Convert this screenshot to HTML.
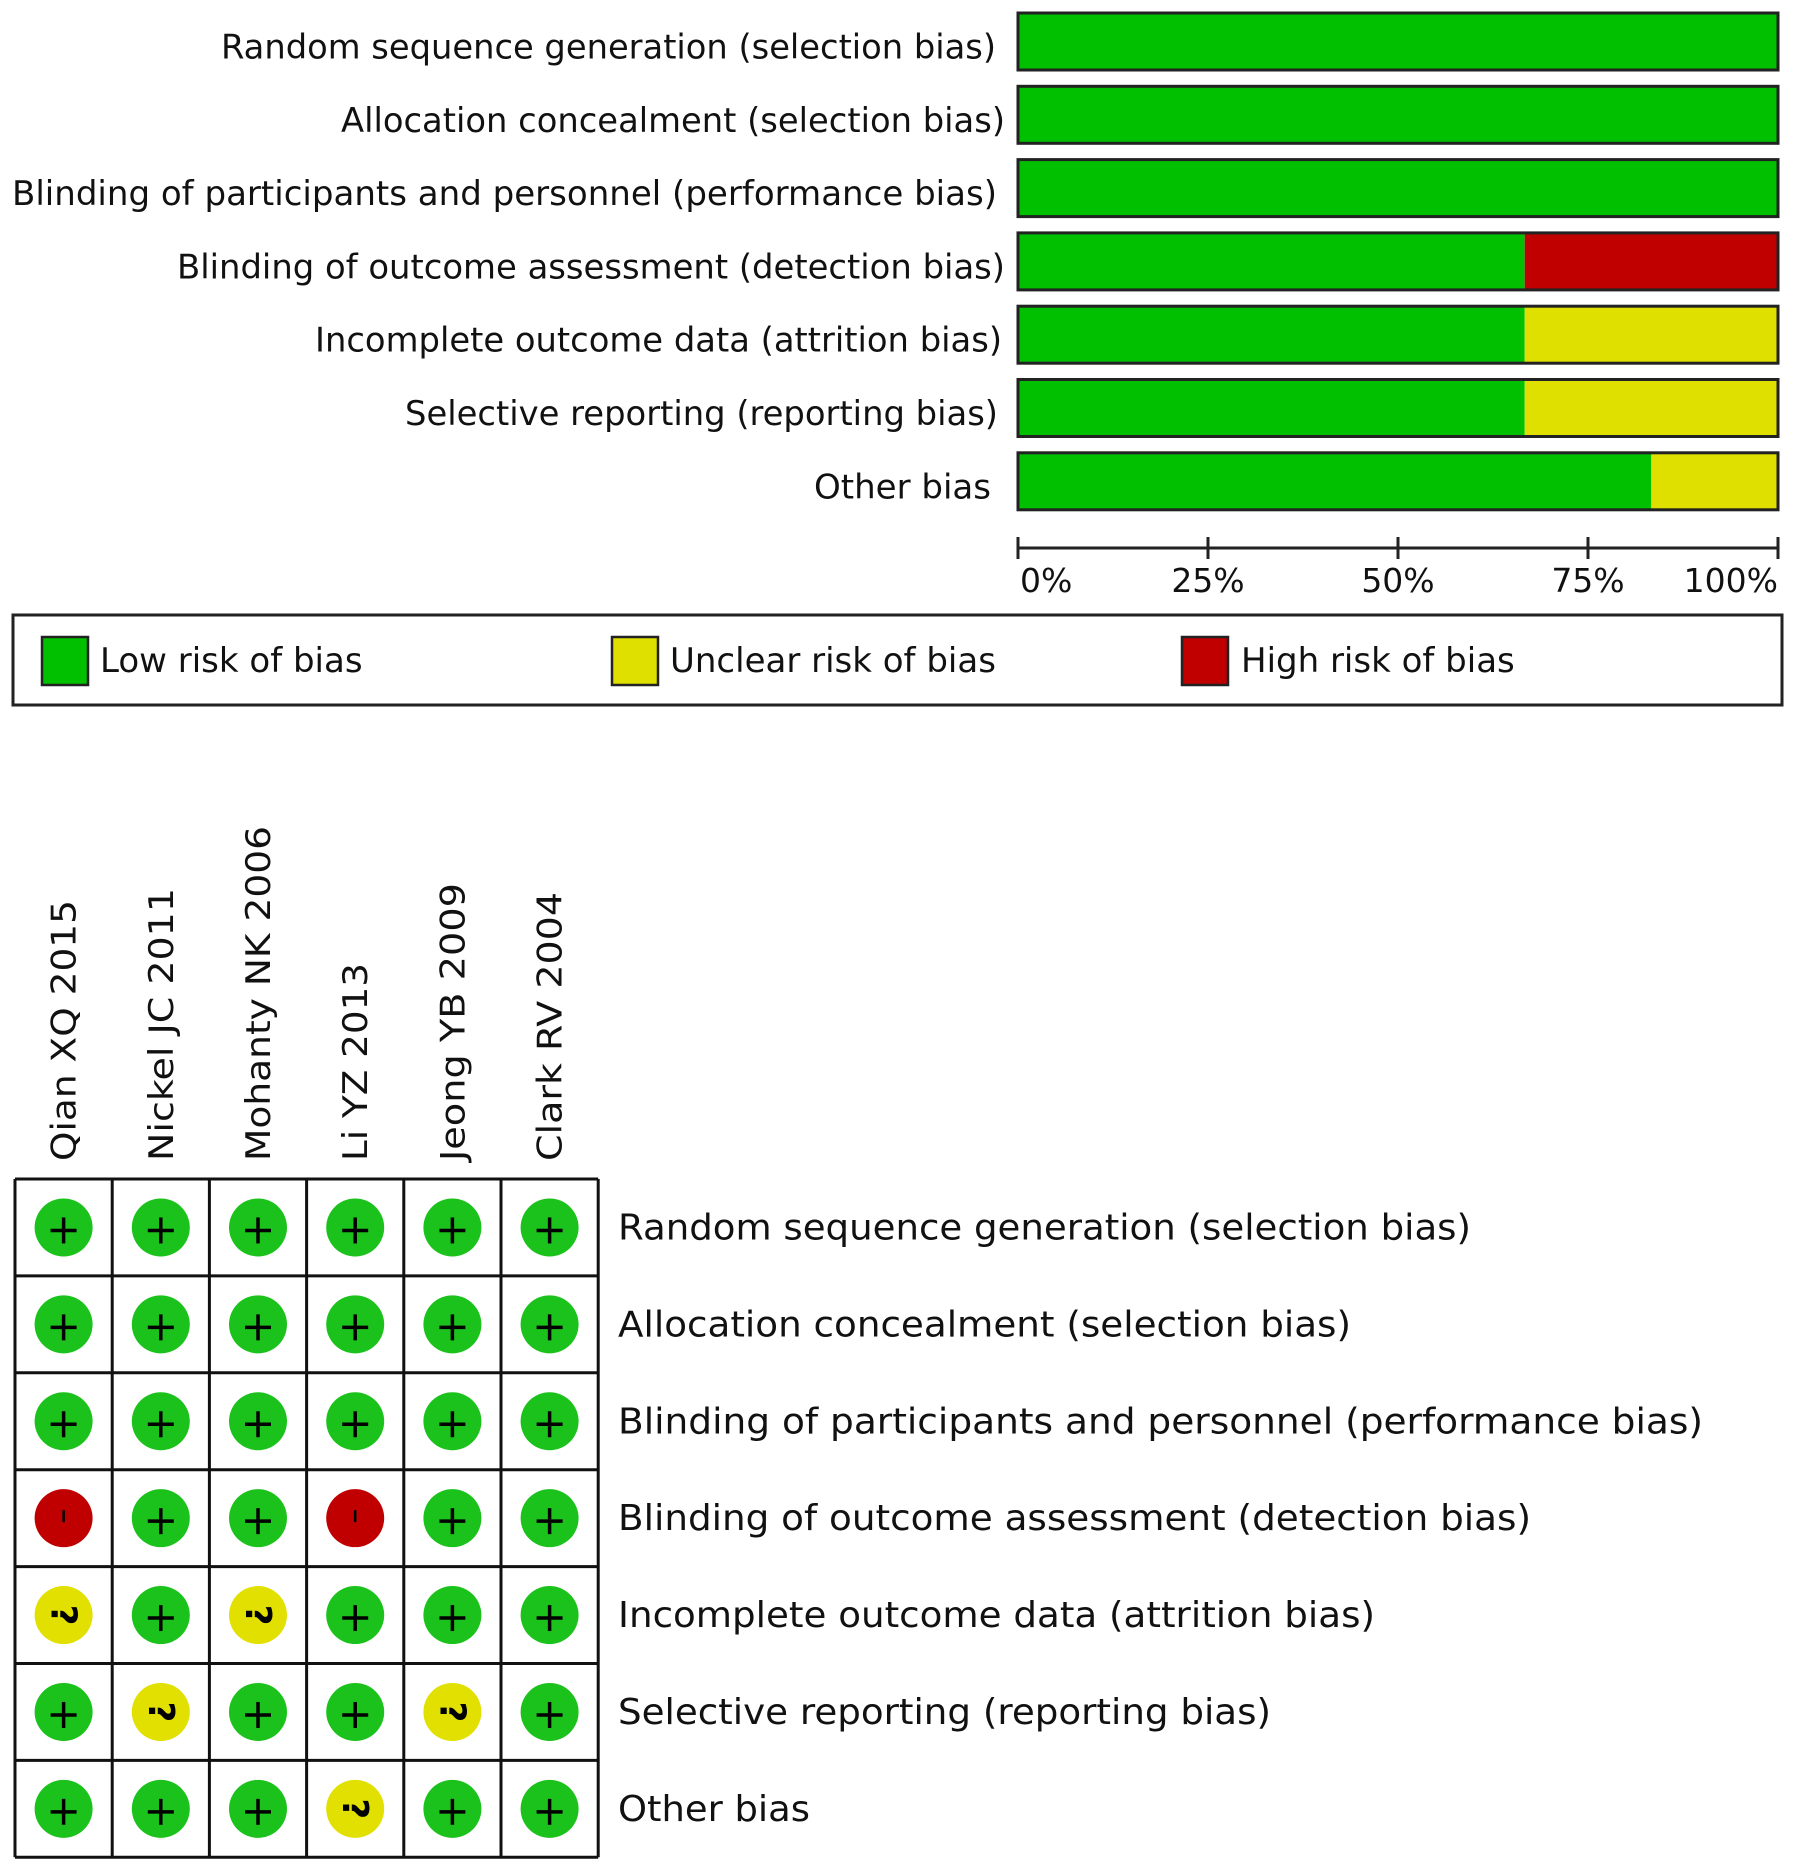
<!DOCTYPE html>
<html><head><meta charset="utf-8"><style>
html,body{margin:0;padding:0;background:#fff;}
svg{display:block;font-family:"DejaVu Sans","Liberation Sans",sans-serif;}
</style></head><body>
<svg id="chart" width="1795" height="1872" viewBox="0 0 1795 1872" xmlns="http://www.w3.org/2000/svg"></svg>
<script>
const domains = ["Random sequence generation (selection bias)","Allocation concealment (selection bias)","Blinding of participants and personnel (performance bias)","Blinding of outcome assessment (detection bias)","Incomplete outcome data (attrition bias)","Selective reporting (reporting bias)","Other bias"];
const lowPct = [100,100,100,66.67,66.67,66.67,83.33];
const unclearPct = [0,0,0,0,33.33,33.33,16.67];
const highPct = [0,0,0,33.33,0,0,0];
const tickValues = [0,25,50,75,100];
const tickLabels = ["0%","25%","50%","75%","100%"];
const studies = ["Qian XQ 2015","Nickel JC 2011","Mohanty NK 2006","Li YZ 2013","Jeong YB 2009","Clark RV 2004"];
const judgements = [
 ["L","L","L","L","L","L"],
 ["L","L","L","L","L","L"],
 ["L","L","L","L","L","L"],
 ["H","L","L","H","L","L"],
 ["U","L","U","L","L","L"],
 ["L","U","L","L","U","L"],
 ["L","L","L","U","L","L"]
];

const NS="http://www.w3.org/2000/svg";
const svg=document.getElementById('chart');
function mk(tag,attrs,parent){const e=document.createElementNS(NS,tag);for(const k in attrs)e.setAttribute(k,attrs[k]);(parent||svg).appendChild(e);return e;}

const X0=1018,X1=1778;
const xScale=v=>X0+(X1-X0)*v/100;
const barTop=i=>13+73.3*i;
const BH=57;
const topLabelLeft=[221,341,12,177,315,405,814];
const topLabelRight=[996,1005,997,1005,1002,998,991];

const topG=mk('g',{});


domains.forEach((d,i)=>{
  const y=barTop(i);
  const t=mk('text',{x:topLabelLeft[i],y:y+BH/2+17,'font-size':34,fill:'#111',textLength:topLabelRight[i]-topLabelLeft[i],lengthAdjust:'spacingAndGlyphs'},topG);
  t.textContent=d;
  
  
  let acc=0;
  [[lowPct[i],'#00c000'],[unclearPct[i],'#e0e000'],[highPct[i],'#c00000']].forEach(([v,c])=>{
    if(v<=0)return;
    const r=mk('rect',{x:xScale(acc),y:y,width:xScale(acc+v)-xScale(acc),height:BH,fill:c},topG);
    
    
    acc+=v;
  });
  const o=mk('rect',{x:X0,y:y,width:X1-X0,height:BH,fill:'none',stroke:'#222','stroke-width':3},topG);
  
  
});
const ax=mk('line',{x1:X0,x2:X1,y1:548,y2:548,stroke:'#222','stroke-width':3},topG);


tickValues.forEach((v,i)=>{
  const tk=mk('line',{x1:xScale(v),x2:xScale(v),y1:537,y2:559,stroke:'#222','stroke-width':3},topG);
  
  
  const anchor=i===0?'start':(i===tickValues.length-1?'end':'middle');
  const tl=mk('text',{x:xScale(v)+(i===0?2:0),y:592,'font-size':33,'text-anchor':anchor,fill:'#111'},topG);
  tl.textContent=tickLabels[i];
  
  
});

const lg=mk('g',{});


mk('rect',{x:13,y:615,width:1769,height:90,fill:'#fff',stroke:'#222','stroke-width':3},lg);
[["Low risk of bias",'#00c000',42,100],["Unclear risk of bias",'#e0e000',612,670],["High risk of bias",'#c00000',1182,1241]].forEach(([lab,c,sx,tx])=>{
  const s=mk('rect',{x:sx,y:637,width:46,height:48,fill:c,stroke:'#222','stroke-width':2.5},lg);
  
  
  const t=mk('text',{x:tx,y:672,'font-size':34,fill:'#111'},lg);
  t.textContent=lab;
  
  
});

const GX=15,GY=1179,CW=97.2,RH=96.9;
const studyLen=[261,273,335,198,278,269];
const gridLabelRight=[1471,1351,1703,1531,1375,1271,810];
const g=mk('g',{});


studies.forEach((s,j)=>{
  const cx=GX+CW*(j+0.5);
  const t=mk('text',{x:0,y:0,'font-size':34,fill:'#111',transform:`translate(${cx+12},1161) rotate(-90)`,textLength:studyLen[j],lengthAdjust:'spacingAndGlyphs'},g);
  t.textContent=s;
  
  
});
domains.forEach((d,i)=>{
  const cy=GY+RH*(i+0.5);
  const t=mk('text',{x:618,y:cy+12,'font-size':36,fill:'#111',textLength:gridLabelRight[i]-618,lengthAdjust:'spacingAndGlyphs'},g);
  t.textContent=d;
  
  
  judgements[i].forEach((jv,j)=>{
    const cx=GX+CW*(j+0.5);
    const col=jv==='L'?'#1cc21c':(jv==='U'?'#e2e000':'#c00000');
    const c=mk('circle',{cx:cx,cy:cy,r:29,fill:col},g);
    
    
    if(jv==='L'){
      mk('line',{x1:cx-13,x2:cx+13,y1:cy+3,y2:cy+3,stroke:'#000','stroke-width':3.5},g);
      mk('line',{x1:cx,x2:cx,y1:cy-10,y2:cy+16,stroke:'#000','stroke-width':3.5},g);
    } else if(jv==='H'){
      mk('line',{x1:cx,x2:cx,y1:cy-8,y2:cy+4,stroke:'#000','stroke-width':2.5},g);
    } else {
      const q=mk('text',{x:0,y:0,'font-size':36,'font-weight':'bold','text-anchor':'middle',fill:'#000',transform:`translate(${cx},${cy}) rotate(90) translate(0,12)`},g);
      q.textContent='?';
    }
  });
});
for(let j=0;j<=6;j++){mk('line',{x1:GX+CW*j,x2:GX+CW*j,y1:GY,y2:GY+RH*7,stroke:'#111','stroke-width':3},g);}
for(let i=0;i<=7;i++){mk('line',{x1:GX,x2:GX+CW*6,y1:GY+RH*i,y2:GY+RH*i,stroke:'#111','stroke-width':3},g);}
</script>
</body></html>
